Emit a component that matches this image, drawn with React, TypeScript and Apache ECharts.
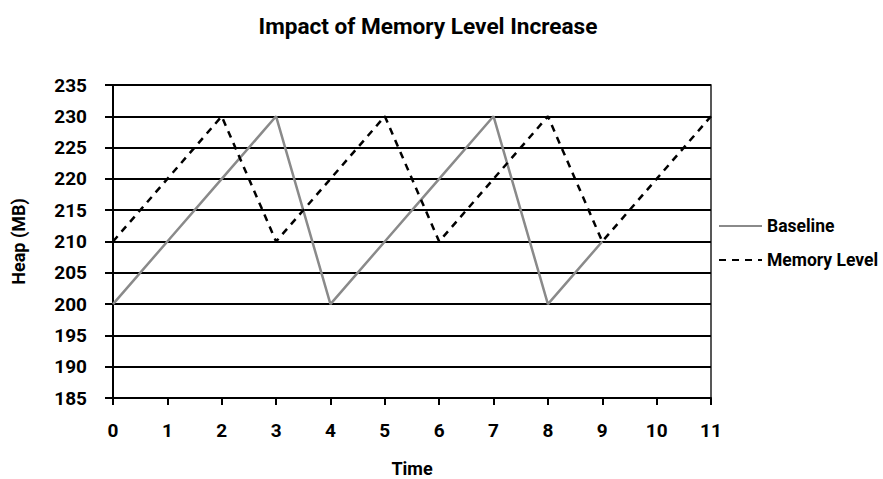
import React, { useEffect, useRef } from "react";
import * as echarts from "echarts";

const timeLabels = ["0", "1", "2", "3", "4", "5", "6", "7", "8", "9", "10", "11"];
const baseline = [200, 210, 220, 230, 200, 210, 220, 230, 200, 210, null, null];
const memoryLevel = [210, 220, 230, 210, 220, 230, 210, 220, 230, 210, 220, 230];

const FONT = "Roboto, sans-serif";

export default function App() {
  const ref = useRef<HTMLDivElement>(null);
  useEffect(() => {
    if (!ref.current) return;
    const chart = echarts.init(ref.current, null, { renderer: "svg" });
    chart.setOption({
      animation: false,
      backgroundColor: "#fff",
      textStyle: { fontFamily: FONT },
      title: {
        text: "Impact of Memory Level Increase",
        left: 423,
        textAlign: "center",
        top: 10,
        textStyle: { fontFamily: FONT, fontSize: 22.6, fontWeight: "bold", color: "#000" },
      },
      grid: {
        left: 113,
        right: 172,
        top: 85,
        bottom: 81,
        outerBoundsMode: "none",
        containLabel: false,
        show: true,
        borderColor: "#222",
        borderWidth: 1.5,
      },
      legend: {
        orient: "vertical",
        left: 713,
        top: 212,
        itemWidth: 43,
        itemHeight: 14,
        itemGap: 16,
        itemStyle: { opacity: 0 },
        textStyle: { fontFamily: FONT, fontSize: 17.5, fontWeight: "bold", color: "#000" },
        data: ["Baseline", "Memory Level"],
      },
      xAxis: {
        type: "category",
        data: timeLabels,
        boundaryGap: false,
        name: "Time",
        nameLocation: "middle",
        nameGap: 61,
        nameTextStyle: { fontFamily: FONT, fontSize: 18, fontWeight: "bold", color: "#000" },
        axisLine: { lineStyle: { color: "#000", width: 2 } },
        axisTick: { show: true, length: 7, lineStyle: { color: "#000", width: 2 } },
        axisLabel: { fontFamily: FONT, fontSize: 19, fontWeight: "bold", color: "#000", margin: 23 },
        splitLine: { show: false },
      },
      yAxis: {
        type: "value",
        min: 185,
        max: 235,
        interval: 5,
        name: "Heap (MB)",
        nameLocation: "middle",
        nameGap: 86,
        nameTextStyle: { fontFamily: FONT, fontSize: 18, fontWeight: "bold", color: "#000" },
        axisLine: { show: true, lineStyle: { color: "#000", width: 2 } },
        axisTick: { show: true, length: 8, lineStyle: { color: "#000", width: 2 } },
        axisLabel: { fontFamily: FONT, fontSize: 19, fontWeight: "bold", color: "#000", margin: 26 },
        splitLine: { show: true, lineStyle: { color: "#000", width: 2 } },
      },
      series: [
        {
          name: "Baseline",
          type: "line",
          data: baseline,
          symbol: "none",
          color: "#8a8a8a",
          lineStyle: { color: "#8a8a8a", width: 2.5, type: "solid" },
        },
        {
          name: "Memory Level",
          type: "line",
          data: memoryLevel,
          symbol: "none",
          color: "#000",
          lineStyle: { color: "#000", width: 2.5, type: [7, 6] },
        },
      ],
    });
    return () => chart.dispose();
  }, []);
  return (
    <div
      ref={ref}
      style={{ position: "fixed", left: 0, top: 0, width: 883, height: 479 }}
    />
  );
}
